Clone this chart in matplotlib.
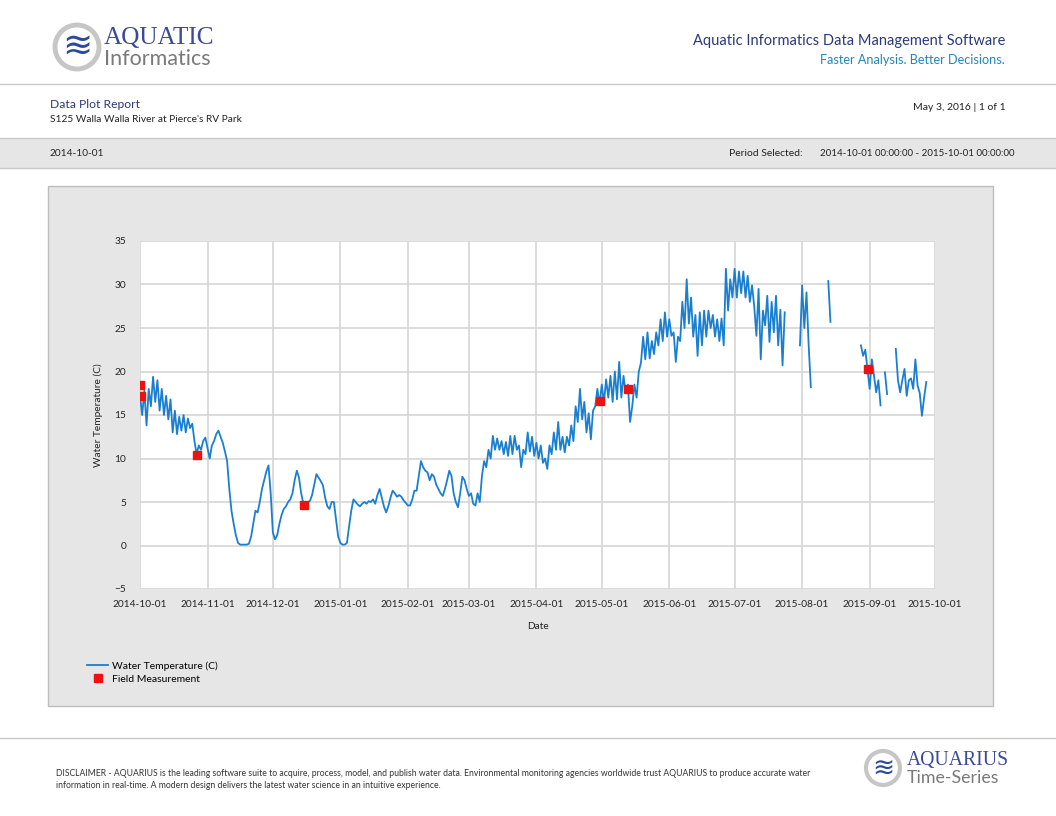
import matplotlib
matplotlib.use("Agg")
import matplotlib.pyplot as plt
import matplotlib.dates as mdates
from matplotlib.patches import Rectangle, Circle
import numpy as np
import pandas as pd

nan = np.nan
START = "2014-10-01"
# water temperature (C), one reading per day from 2014-10-01 (alternating daily low/high)
temp_oct = [17.2, 15.0, 17.8, 13.8, 18.0, 16.0, 19.4, 16.5, 19.0, 15.5, 18.0, 15.0, 17.2, 14.5, 16.8, 13.0,
            15.5, 12.8, 14.8, 13.2, 15.0, 13.0, 14.6, 13.5, 14.0, 12.0, 10.5, 11.5, 11.0, 12.0, 12.4]
temp_nov = [11.2, 10.0, 11.5, 12.0, 12.8, 13.2, 12.5, 11.8, 10.8, 9.7, 6.5, 4.0, 2.5, 1.2, 0.3, 0.1,
            0.1, 0.1, 0.1, 0.2, 1.0, 2.5, 4.0, 3.8, 5.0, 6.5, 7.5, 8.5, 9.2, 6.0]
temp_dec = [1.5, 0.7, 1.2, 2.5, 3.5, 4.2, 4.5, 5.0, 5.3, 6.0, 7.5, 8.6, 7.8, 6.0, 4.8, 5.0,
            5.0, 5.1, 5.8, 7.0, 8.2, 7.8, 7.4, 6.9, 5.5, 4.5, 4.2, 5.0, 5.0, 3.0, 1.0]
temp_jan = [0.3, 0.1, 0.1, 0.3, 2.2, 4.0, 5.3, 5.0, 4.7, 4.5, 4.8, 5.0, 4.8, 5.1, 5.0, 5.3,
            4.8, 5.8, 6.5, 5.5, 4.5, 3.8, 4.5, 5.5, 6.3, 6.0, 5.6, 5.8, 5.6, 5.2, 4.9]
temp_feb = [4.6, 4.6, 5.3, 6.3, 6.3, 8.0, 9.7, 9.0, 8.6, 8.4, 7.5, 8.2, 7.9, 7.0, 6.5, 6.0,
            5.7, 6.5, 7.5, 8.6, 8.0, 6.0, 5.0, 4.4, 6.0, 7.9, 7.5, 6.5]
temp_mar = [5.7, 6.0, 4.8, 4.6, 6.0, 5.0, 8.0, 9.7, 9.0, 11.0, 10.0, 12.6, 11.0, 12.3, 11.0, 12.0,
            10.5, 11.9, 10.3, 12.6, 10.5, 12.6, 11.0, 11.5, 9.0, 11.0, 10.5, 13.0, 10.8, 12.5, 10.3]
temp_apr = [11.8, 10.0, 11.5, 9.5, 10.0, 8.8, 11.5, 10.5, 13.0, 11.0, 14.2, 11.0, 12.5, 10.7, 12.5, 11.5,
            13.8, 12.0, 16.0, 14.2, 18.0, 14.5, 16.5, 13.0, 15.2, 12.2, 15.5, 16.0, 18.0, 16.2]
temp_may = [18.5, 16.4, 19.1, 17.0, 19.5, 16.5, 20.0, 16.8, 21.1, 17.0, 19.5, 17.5, 18.5, 14.2, 16.0, 18.5,
            17.0, 20.0, 21.0, 24.0, 21.4, 24.5, 21.5, 23.5, 22.0, 24.5, 23.0, 26.0, 23.5, 26.8, 24.0]
temp_jun = [26.0, 24.1, 24.5, 21.1, 24.0, 23.5, 28.0, 25.0, 30.6, 25.5, 28.5, 24.0, 26.5, 21.8, 26.8, 23.0,
            27.0, 24.0, 27.0, 25.0, 26.5, 24.0, 26.0, 23.5, 26.1, 23.0, 31.8, 27.0, 30.6, 28.5]
temp_jul = [31.8, 28.5, 31.5, 29.0, 31.5, 28.5, 31.0, 28.0, 29.9, 27.5, 24.1, 29.5, 21.4, 27.0, 25.3, 28.7,
            23.4, 28.0, 24.5, 28.7, 23.0, 27.1, 20.7, 26.8, nan, nan, nan, nan, nan, nan, 23.0]
temp_aug = [29.9, 25.0, 29.1, 23.0, 18.2, nan, nan, nan, nan, nan, nan, nan, 30.4, 25.7, nan, nan,
            nan, nan, nan, nan, nan, nan, nan, nan, nan, nan, nan, 23.0, 21.8, 22.5, 20.3]
temp_sep = [18.0, 21.4, 19.5, 17.6, 19.0, 16.1, nan, 19.9, 17.4, nan, nan, nan, 22.6, 19.0, 17.6, 19.0,
            20.3, 17.2, 19.0, 19.2, 18.0, 21.4, 18.4, 17.5, 14.9, 17.0, 18.8, nan, nan, nan]
temps = (temp_oct + temp_nov + temp_dec + temp_jan + temp_feb + temp_mar + temp_apr
         + temp_may + temp_jun + temp_jul + temp_aug + temp_sep)

field_dates = ["2014-10-01 02:00", "2014-10-01 06:00", "2014-10-27 06:00", "2014-12-15 08:00",
               "2015-04-30 02:00", "2015-05-13 02:00", "2015-08-31 08:00"]
field_values = [18.4, 17.2, 10.4, 4.65, 16.6, 18.0, 20.3]

NAVY = "#2b3a78"
INK = "#222222"
plt.rcParams["font.family"] = ["Lato", "DejaVu Sans"]

W, H = 1056, 816
fig = plt.figure(figsize=(W / 100, H / 100), dpi=100, facecolor="white")

# page layer in pixel coordinates
pg = fig.add_axes([0, 0, 1, 1], zorder=0)
pg.set_xlim(0, W); pg.set_ylim(H, 0); pg.axis("off")

# header logo
pg.add_patch(Circle((77, 47), 22, fc="white", ec="#c6c6c6", lw=3.5))
pg.text(77, 48, "≋", ha="center", va="center", fontsize=26, color="#2c4a9c", family="DejaVu Sans")
pg.text(104, 38, "AQUATIC", fontsize=18.2, color="#3a4a98", family="Liberation Serif", va="center")
pg.text(104, 59, "Informatics", fontsize=15.5, color="#7a7a7a", va="center")
pg.text(1005, 41, "Aquatic Informatics Data Management Software", fontsize=10.5, color=NAVY,
        ha="right", va="center")
pg.text(1005, 60, "Faster Analysis. Better Decisions.", fontsize=9.1, color="#2286bf",
        ha="right", va="center")
pg.plot([0, W], [84, 84], color="#c8c8c8", lw=1)

pg.text(50, 104, "Data Plot Report", fontsize=8.7, color=NAVY, va="center")
pg.text(50, 120, "S125 Walla Walla River at Pierce's RV Park", fontsize=7.3, color=INK, va="center")
pg.text(1006, 107, "May 3, 2016 | 1 of 1", fontsize=7.5, color=INK, ha="right", va="center")

pg.add_patch(Rectangle((0, 138), W, 30, fc="#e6e6e6", ec="none"))
pg.plot([0, W], [138, 138], color="#c8c8c8", lw=1)
pg.plot([0, W], [168, 168], color="#c8c8c8", lw=1)
pg.text(50, 153, "2014-10-01", fontsize=7.3, color=INK, va="center")
pg.text(803, 153, "Period Selected:", fontsize=7.5, color=INK, ha="right", va="center")
pg.text(1014, 153, "2014-10-01 00:00:00 - 2015-10-01 00:00:00", fontsize=7.0, color=INK,
        ha="right", va="center")

# chart panel
pg.add_patch(Rectangle((48, 186), 945, 520, fc="#e6e6e6", ec="#bdbdbd", lw=1))

# footer
pg.plot([0, W], [738, 738], color="#c8c8c8", lw=1)
pg.text(56, 774, "DISCLAIMER - AQUARIUS is the leading software suite to acquire, process, model, and publish "
        "water data. Environmental monitoring agencies worldwide trust AQUARIUS to produce accurate water",
        fontsize=6.25, color="#333", va="center")
pg.text(56, 786, "information in real-time. A modern design delivers the latest water science in an "
        "intuitive experience.", fontsize=6.25, color="#333", va="center")
pg.add_patch(Circle((883, 768), 17, fc="white", ec="#c6c6c6", lw=3))
pg.text(883, 769, "≋", ha="center", va="center", fontsize=19, color="#2c4a9c", family="DejaVu Sans")
pg.text(907, 760, "AQUARIUS", fontsize=14.2, color="#3a4a98", family="Liberation Serif", va="center")
pg.text(907, 778, "Time-Series", fontsize=12.8, color="#7a7a7a", va="center")

# data plot
ax = fig.add_axes([140 / W, 1 - 589 / H, 795 / W, 348 / H], zorder=1)
dates = pd.date_range(START, periods=len(temps), freq="D")
ax.plot(dates, temps, color="#1b7fd0", lw=1.3, label="Water Temperature (C)")
ax.plot(pd.to_datetime(field_dates), field_values, ls="none", marker="s", ms=5.5,
        color="#ee1111", label="Field Measurement")

ax.set_xlim(pd.Timestamp("2014-10-01"), pd.Timestamp("2015-10-01"))
ax.set_ylim(-5, 35)
ax.set_yticks(np.arange(-5, 36, 5))
ax.xaxis.set_major_locator(mdates.MonthLocator())
ax.xaxis.set_major_formatter(mdates.DateFormatter("%Y-%m-%d"))
ax.grid(True, color="#d6d6d6", lw=1.2)
ax.set_axisbelow(True)
for s in ax.spines.values():
    s.set_visible(False)
ax.tick_params(length=0, labelsize=7.3, labelcolor=INK, pad=8)
ax.tick_params(axis="y", pad=10)
ax.set_xlabel("Date", fontsize=7.3, color=INK, labelpad=9)
ax.set_ylabel("Water Temperature (C)", fontsize=7.3, color=INK, labelpad=8)

leg = ax.legend(loc="upper left", bbox_to_anchor=(78 / W, 1 - 652 / H), bbox_transform=fig.transFigure,
                frameon=False, fontsize=7.5, handlelength=2.0, handletextpad=0.4, labelspacing=0.35)

fig.savefig("out.png", dpi=100, facecolor="white")
